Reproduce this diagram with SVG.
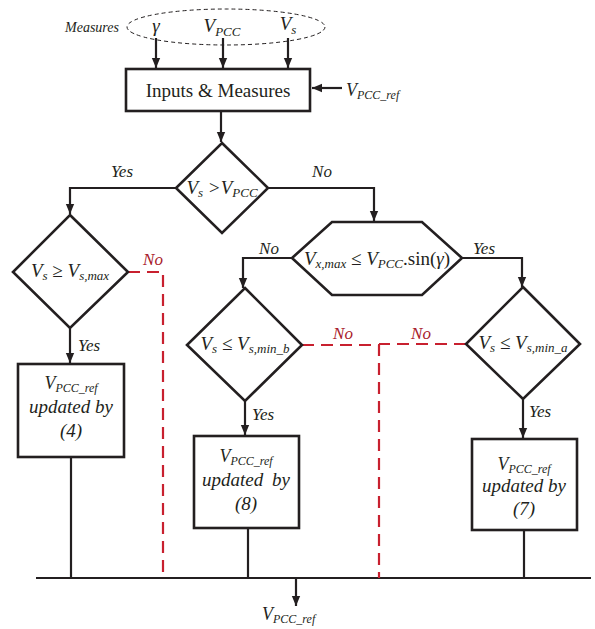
<svg xmlns="http://www.w3.org/2000/svg" width="595" height="629" viewBox="0 0 595 629">
<defs>
<marker id="ah" markerUnits="userSpaceOnUse" markerWidth="10" markerHeight="14" viewBox="0 0 12 10" refX="12" refY="5" orient="auto">
<path d="M0,0 L12,5 L0,10 Z" fill="#231f20"/>
</marker>
</defs>
<style>
.ln{stroke:#231f20;stroke-width:2.2;fill:none}
.sh{stroke:#231f20;stroke-width:2.6;fill:#fff}
.rd{stroke:#c8202f;stroke-width:2.2;fill:none;stroke-dasharray:12,7}
text{font-family:"Liberation Serif","Times New Roman",serif;fill:#231f20}
.it{font-style:italic}
.lb{font-style:italic;font-size:17px}
.red{fill:#a8202a}
</style>
<rect width="595" height="629" fill="#fff"/>

<g id="measures">
<ellipse cx="226" cy="27" rx="99" ry="18" fill="none" stroke="#231f20" stroke-width="1" stroke-dasharray="4,3"/>
<text x="65" y="32" class="it" font-size="14">Measures</text>
<text x="156" y="32" text-anchor="middle" class="it" font-size="19">γ</text>
<text x="222" y="32" text-anchor="middle" class="it" font-size="19">V<tspan font-size="13" dy="4">PCC</tspan></text>
<text x="288" y="30" text-anchor="middle" class="it" font-size="19">V<tspan font-size="13" dy="4">s</tspan></text>
</g>

<g id="connectors">
<path class="ln" d="M156,38 V68" marker-end="url(#ah)"/>
<path class="ln" d="M223,38 V68" marker-end="url(#ah)"/>
<path class="ln" d="M288,38 V68" marker-end="url(#ah)"/>
<path class="ln" d="M342,88 H312" marker-end="url(#ah)"/>
<path class="ln" d="M221,112 V142" marker-end="url(#ah)"/>
<path class="ln" d="M176,188 H70 V214" marker-end="url(#ah)"/>
<path class="ln" d="M268,188 H374 V221" marker-end="url(#ah)"/>
<path class="ln" d="M292,258 H243 V288" marker-end="url(#ah)"/>
<path class="ln" d="M462,258 H522 V287" marker-end="url(#ah)"/>
<path class="ln" d="M70,328 V363" marker-end="url(#ah)"/>
<path class="ln" d="M245,401 V435" marker-end="url(#ah)"/>
<path class="ln" d="M523,399 V438" marker-end="url(#ah)"/>
<path class="ln" d="M71,457 V578"/>
<path class="ln" d="M248,528 V578"/>
<path class="ln" d="M524,530 V578"/>
<path class="ln" d="M36,578 H591"/>
<path class="ln" d="M296,578 V606" marker-end="url(#ah)"/>
<path class="rd" d="M128,272 H163 V578"/>
<path class="rd" d="M302,345 H379 V578"/>
<path class="rd" d="M466,344 H379"/>
</g>

<g id="labels">
<text x="122" y="177" text-anchor="middle" class="lb">Yes</text>
<text x="322" y="177" text-anchor="middle" class="lb">No</text>
<text x="269" y="254" text-anchor="middle" class="lb">No</text>
<text x="484" y="254" text-anchor="middle" class="lb">Yes</text>
<text x="153" y="265" text-anchor="middle" class="lb red">No</text>
<text x="78" y="351" class="lb">Yes</text>
<text x="343" y="339" text-anchor="middle" class="lb red">No</text>
<text x="252" y="420" class="lb">Yes</text>
<text x="421" y="339" text-anchor="middle" class="lb red">No</text>
<text x="529" y="417" class="lb">Yes</text>
<text x="262" y="620" class="it" font-size="18">V<tspan font-size="12" dy="3">PCC_ref</tspan></text>
<text x="346" y="96" class="it" font-size="18">V<tspan font-size="12" dy="3">PCC_ref</tspan></text>
</g>

<g id="inputs">
<rect class="sh" x="126" y="69" width="184" height="42"/>
<text x="218" y="97" text-anchor="middle" font-size="19">Inputs &amp; Measures</text>
</g>

<g id="d1">
<path class="sh" d="M222,143 L268,188 L222,233 L176,188 Z"/>
<text x="222" y="194" text-anchor="middle" class="it" font-size="19">V<tspan font-size="13" dy="3">s</tspan><tspan dy="-3"> &gt;V</tspan><tspan font-size="13" dy="3">PCC</tspan></text>
</g>

<g id="hex">
<path class="sh" d="M332,222 H422 L462,258 L422,295 H332 L292,258 Z"/>
<text x="377" y="265" text-anchor="middle" class="it" font-size="19">V<tspan font-size="13" dy="3">x,max</tspan><tspan dy="-3" font-style="normal"> ≤ </tspan>V<tspan font-size="13" dy="3">PCC</tspan><tspan dy="-3" font-style="normal">.sin(</tspan>γ<tspan font-style="normal">)</tspan></text>
</g>

<g id="d2">
<path class="sh" d="M70,215 L128,272 L70,328 L13,272 Z"/>
<text x="70" y="277" text-anchor="middle" class="it" font-size="19">V<tspan font-size="13" dy="3">s</tspan><tspan dy="-3" font-style="normal"> ≥ </tspan>V<tspan font-size="13" dy="3">s,max</tspan></text>
</g>

<g id="d3">
<path class="sh" d="M245,288 L302,345 L245,401 L187,345 Z"/>
<text x="245" y="350" text-anchor="middle" class="it" font-size="19">V<tspan font-size="13" dy="3">s</tspan><tspan dy="-3" font-style="normal"> ≤ </tspan>V<tspan font-size="13" dy="3">s,min_b</tspan></text>
</g>

<g id="d4">
<path class="sh" d="M523,287 L580,344 L523,399 L466,344 Z"/>
<text x="523" y="349" text-anchor="middle" class="it" font-size="19">V<tspan font-size="13" dy="3">s</tspan><tspan dy="-3" font-style="normal"> ≤ </tspan>V<tspan font-size="13" dy="3">s,min_a</tspan></text>
</g>

<g id="box4">
<rect class="sh" x="18" y="364" width="106" height="93"/>
<text x="71" y="389" text-anchor="middle" class="it" font-size="18">V<tspan font-size="12" dy="3">PCC_ref</tspan></text>
<text x="71" y="413" text-anchor="middle" class="it" font-size="19">updated by</text>
<text x="71" y="437" text-anchor="middle" class="it" font-size="19">(4)</text>
</g>

<g id="box8">
<rect class="sh" x="194" y="436" width="105" height="92"/>
<text x="246" y="462" text-anchor="middle" class="it" font-size="18">V<tspan font-size="12" dy="3">PCC_ref</tspan></text>
<text x="246" y="486" text-anchor="middle" class="it" font-size="19" word-spacing="4">updated by</text>
<text x="246" y="510" text-anchor="middle" class="it" font-size="19">(8)</text>
</g>

<g id="box7">
<rect class="sh" x="472" y="439" width="105" height="91"/>
<text x="524" y="470" text-anchor="middle" class="it" font-size="18">V<tspan font-size="12" dy="3">PCC_ref</tspan></text>
<text x="524" y="492" text-anchor="middle" class="it" font-size="19">updated by</text>
<text x="524" y="515" text-anchor="middle" class="it" font-size="19">(7)</text>
</g>
</svg>
